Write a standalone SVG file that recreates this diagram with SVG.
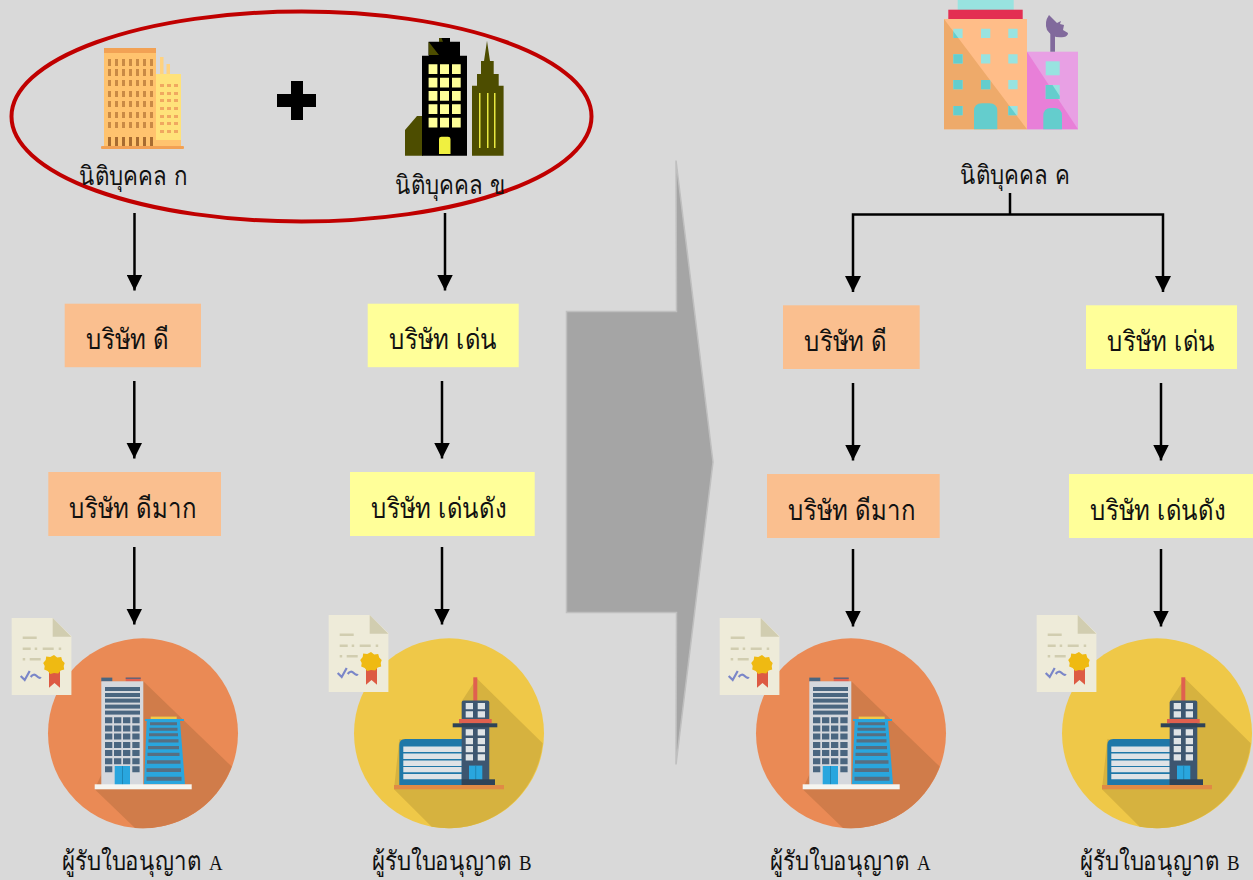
<svg xmlns="http://www.w3.org/2000/svg" xmlns:xlink="http://www.w3.org/1999/xlink" width="1253" height="880" viewBox="0 0 1253 880">
<style>
.lbl{font-family:"DejaVu Serif",serif;font-size:26px;fill:#111}
.lat{font-family:"Liberation Serif",serif;font-size:22px}
.box{font-family:"DejaVu Sans",sans-serif;font-size:28px;fill:#111}
.org{fill:#fabf8f}.yel{fill:#ffff99}
.con{fill:none;stroke:#000;stroke-width:2.5}
.w{fill:#4a6680}.wl{fill:#dfe3e6}.sb{fill:#566f82}.c1{fill:#98e3e0}.c2{fill:#64cdcd}
.o{fill:#4d4d00}.yw{fill:#ffff99}
.d1{fill:#c98a45}.d2{fill:#f0a860}
.cl{fill:#d1cdb0}
</style>
<defs>
<marker id="ah" markerUnits="userSpaceOnUse" markerWidth="16" markerHeight="16" refX="16" refY="8" orient="auto"><path d="M0 0L16 8L0 16Z" fill="#000"/></marker>
<clipPath id="clipMain"><path d="M944 19L1027 129.3H944Z"/></clipPath>
<g id="cert">
<path d="M0 0H41L59.7 18V77H0Z" fill="#eeebd9"/>
<path d="M41 0L59.7 18.7H41Z" class="cl"/>
<rect x="11" y="18.5" width="14" height="2.5" class="cl"/>
<rect x="11" y="29.5" width="8" height="2.5" class="cl"/><rect x="23" y="29.5" width="2.5" height="2.5" class="cl"/><rect x="31" y="29.5" width="11" height="2.5" class="cl"/><rect x="47" y="29.5" width="2.5" height="2.5" class="cl"/>
<rect x="11" y="40" width="2.5" height="2.5" class="cl"/><rect x="18" y="40" width="11" height="2.5" class="cl"/>
<path d="M9 58L13 62L18 53M19 59Q22 55 25 58T29 59" fill="none" stroke="#7a86c8" stroke-width="2.2"/>
<path d="M37.3 50H48.3V69.7L42.8 65L37.3 69.7Z" fill="#dd5a43"/>
<path d="M42.3 37L45.5 39.5L49.5 39L50.5 42.5L53 45L52 48L52.5 51.5L49 52.5L46.5 55.5L42.3 55L38.5 56L36 53L32.5 51.5L33 48L31.5 45L34 42L34.5 38.5L38.5 39Z" fill="#efba12"/>
</g>
<g id="bldA">
<rect x="-41.7" y="-55.7" width="11" height="4" class="w"/>
<rect x="-17.3" y="-55.7" width="15" height="4" fill="#e0604f"/><rect x="-17.3" y="-55.7" width="15" height="1.2" class="w"/>
<rect x="-41.7" y="-52" width="42" height="104" fill="#d5d8dd"/>
<rect x="-38" y="-46.3" width="35" height="4" class="w"/><rect x="-38" y="-40.3" width="35" height="4" class="w"/><rect x="-38" y="-34.7" width="35" height="4" class="w"/><rect x="-38" y="-28.7" width="35" height="4" class="w"/><rect x="-38" y="-22.7" width="35" height="4" class="w"/>
<path class="w" d="M-38-16h7.3v6h-7.3zM-29-16h7.3v6h-7.3zM-20-16h7.3v6h-7.3zM-10.7-16h7.3v6h-7.3zM-38-7.7h7.3v6h-7.3zM-29-7.7h7.3v6h-7.3zM-20-7.7h7.3v6h-7.3zM-10.7-7.7h7.3v6h-7.3zM-38 .3h7.3v6h-7.3zM-29 .3h7.3v6h-7.3zM-20 .3h7.3v6h-7.3zM-10.7 .3h7.3v6h-7.3zM-38 8.7h7.3v6h-7.3zM-29 8.7h7.3v6h-7.3zM-20 8.7h7.3v6h-7.3zM-10.7 8.7h7.3v6h-7.3zM-38 16.7h7.3v6h-7.3zM-29 16.7h7.3v6h-7.3zM-20 16.7h7.3v6h-7.3zM-10.7 16.7h7.3v6h-7.3zM-38 25h7.3v6h-7.3zM-29 25h7.3v6h-7.3zM-20 25h7.3v6h-7.3zM-10.7 25h7.3v6h-7.3zM-38 33h7.3v6h-7.3zM-10.7 33h7.3v6h-7.3z"/>
<rect x="-28.3" y="32.7" width="15.3" height="19" fill="#29a6de"/><rect x="-21" y="32.7" width="1" height="19" fill="#1e86b5"/>
<path d="M3.7-12.3H37L42 51H1Z" fill="#29a6de"/>
<rect x="2" y="-14.3" width="39" height="2" fill="#29a6de"/>
<rect x="7.7" y="-16.7" width="26" height="2.4" fill="#f0c94a"/>
<path class="sb" d="M7-11h27v3h-27zM6.5-5.5h28v3h-28zM6 0h29v3H6zM5.5 6h30v3.2h-30zM5 12.7h31v3.2H5zM4.5 19.5h32v3.3h-32zM4 27h33.5v3.5H4zM3.5 35h34.5v3.7H3.500zM3.500 43.500h35v4h-35z"/>
<rect x="-48.300" y="51" width="97" height="5" fill="#f5f5f0"/>
</g>
<g id="bldB">
<rect x="24.300" y="-56" width="4" height="24" fill="#e0604f"/>
<path d="M-49.700 51.700V11.700Q-49.700 5.700-43.700 5.700H14.300V51.700Z" fill="#1f78a8"/>
<path class="wl" d="M-45.700 13.300h58.400v5.300h-58.400zM-45.700 20.300h58.400v5.300h-58.400zM-45.700 27.300h58.400v5.300h-58.400zM-45.700 33.700h58.400v5.300h-58.400zM-45.700 40.700h58.400v5.300h-58.400z"/>
<path d="M12.700 51.700V-30.700Q12.700-32.700 14.700-32.700H38.300Q40.300-32.700 40.300-30.700V51.700Z" fill="#3d5670"/>
<rect x="10" y="-14.300" width="32.700" height="4.300" fill="#e0604f"/>
<rect x="3.700" y="-10" width="44.600" height="4" fill="#2e4358"/>
<path class="wl" d="M16.700-30.300h7.300v6.300h-7.300zM28.700-30.300h7.300v6.300h-7.300zM16.700-22h7.300v6.300h-7.300zM28.700-22h7.300v6.300h-7.300zM16.700-4h7.300v6.300h-7.300zM28.700-4h7.300v6.300h-7.300zM16.700 4.700h7.300v6.300h-7.300zM28.700 4.700h7.300v6.300h-7.300zM16.700 12.700h7.300v6.300h-7.300zM28.700 12.700h7.300v6.300h-7.300zM16.700 21h7.300v6.300h-7.300zM28.700 21h7.300v6.300h-7.300z"/>
<rect x="20" y="32.300" width="13.300" height="14.400" fill="#29a6de"/><rect x="26.200" y="32.300" width="1" height="14.400" fill="#1e86b5"/>
<rect x="12.700" y="46" width="33.300" height="5.700" fill="#2e4358"/>
<rect x="-55" y="51.700" width="110" height="4.300" fill="#e08a45"/>
</g>
</defs>
<rect width="1253" height="880" fill="#d9d9d9"/>

<g id="group-ellipse"><ellipse cx="301.500" cy="116.500" rx="290" ry="105" fill="none" stroke="#c00000" stroke-width="4"/></g>

<g id="node-legal-a">
<rect x="104" y="48" width="52" height="101" fill="#ffc36e"/>
<rect x="104" y="48" width="52" height="5" fill="#f2a154"/>
<path class="d1" d="M108 59h3v7h-3zM115 59h3v7h-3zM122 59h3v7h-3zM129 59h3v7h-3zM136 59h3v7h-3zM143 59h3v7h-3zM150 59h3v7h-3zM108 69h3v7h-3zM115 69h3v7h-3zM122 69h3v7h-3zM129 69h3v7h-3zM136 69h3v7h-3zM143 69h3v7h-3zM150 69h3v7h-3zM108 80h3v6h-3zM115 80h3v6h-3zM122 80h3v6h-3zM129 80h3v6h-3zM136 80h3v6h-3zM143 80h3v6h-3zM150 80h3v6h-3zM108 91h3v6h-3zM115 91h3v6h-3zM122 91h3v6h-3zM129 91h3v6h-3zM136 91h3v6h-3zM143 91h3v6h-3zM150 91h3v6h-3zM108 101h3v6h-3zM115 101h3v6h-3zM122 101h3v6h-3zM129 101h3v6h-3zM136 101h3v6h-3zM143 101h3v6h-3zM150 101h3v6h-3zM108 112h3v6h-3zM115 112h3v6h-3zM122 112h3v6h-3zM129 112h3v6h-3zM136 112h3v6h-3zM143 112h3v6h-3zM150 112h3v6h-3zM108 122h3v6h-3zM115 122h3v6h-3zM122 122h3v6h-3zM129 122h3v6h-3zM136 122h3v6h-3zM143 122h3v6h-3zM150 122h3v6h-3z"/>
<path fill="#a86c30" d="M108 137h3v9h-3zM115 137h3v9h-3zM122 137h3v9h-3zM129 137h3v9h-3zM136 137h3v9h-3zM143 137h3v9h-3zM150 137h3v9h-3z"/>
<rect x="160" y="57" width="3.500" height="17" fill="#ffd27f"/><rect x="166.500" y="64" width="3.500" height="10" fill="#ffd27f"/>
<rect x="156" y="74" width="25" height="72" fill="#ffe27a"/>
<path class="d2" d="M160 84h4v3h-4zM167 84h4v3h-4zM174 84h4v3h-4zM160 92h4v3h-4zM167 92h4v3h-4zM174 92h4v3h-4zM160 99h4v3h-4zM167 99h4v3h-4zM174 99h4v3h-4zM160 107h4v3h-4zM167 107h4v3h-4zM174 107h4v3h-4zM160 115h4v3h-4zM167 115h4v3h-4zM174 115h4v3h-4zM160 122h4v3h-4zM167 122h4v3h-4zM174 122h4v3h-4zM160 130h4v3h-4zM167 130h4v3h-4zM174 130h4v3h-4z"/>
<rect x="156" y="140" width="25" height="6" fill="#ffc36e"/>
<rect x="101" y="146" width="83" height="3" rx="1" fill="#f2a154"/>
<text class="lbl" transform="translate(79 185) scale(.857 1)">นิติบุคคล ก</text>
</g>

<g id="plus"><path d="M291 81H303V94H316V107H303V120H291V107H277V94H291Z" fill="#000"/></g>

<g id="node-legal-b">
<path class="o" d="M405 155.700V130L417 116H423V155.700Z"/>
<path class="o" d="M487 40.700L490 61H493.700V74H498.700V85.700H503.600V155.700H472V85.700H477V74H481V61H484Z"/>
<rect x="479" y="93" width="1.500" height="55" fill="#e8e840"/><rect x="487" y="93" width="1.500" height="55" fill="#e8e840"/><rect x="494" y="93" width="1.500" height="55" fill="#e8e840"/>
<path d="M439 41.700V38H450V41.700H460V55.700H467V155.700H422V55.700H428.600V41.700Z" fill="#000"/>
<path class="o" d="M428.600 41.700L439 55H428.600ZM439 38H441.500L443 41.700H439Z"/>
<path class="yw" d="M428.600 64.300h8.800v9.700h-8.800zM440 64.300h9v9.700h-9zM452 64.300h8.700v9.700h-8.700zM428.600 77.700h8.800v9.700h-8.800zM440 77.700h9v9.700h-9zM452 77.700h8.700v9.700h-8.700zM428.600 91h8.800v9.700h-8.800zM440 91h9v9.700h-9zM452 91h8.700v9.700h-8.700zM428.600 104.300h8.800v9.700h-8.800zM440 104.300h9v9.700h-9zM452 104.300h8.700v9.700h-8.700zM428.600 117.700h8.800v9.700h-8.800zM440 117.700h9v9.700h-9zM452 117.700h8.700v9.700h-8.700z"/>
<path d="M439 154V139Q439 136.700 441.500 136.700H448Q450.500 136.700 450.500 139V154Z" fill="#f0f040"/>
<text class="lbl" transform="translate(395 194) scale(.857 1)">นิติบุคคล ข</text>
</g>

<g id="node-legal-c">
<rect x="957.700" y="0" width="56" height="10" class="c1"/>
<rect x="948.300" y="9.700" width="74.400" height="9.300" fill="#e32e52"/>
<rect x="944" y="19" width="83" height="110.300" fill="#ffbd88"/>
<path d="M944 19L1027 129.300H944Z" fill="#eeaa6a"/>
<path class="c1" d="M953.300 28.700h9.300v9.300h-9.300zM981 28.700h9.300v9.300h-9.300zM1008.300 28.700h9.300v9.300h-9.300zM953.300 54.300h9.300v9.300h-9.300zM981 54.300h9.300v9.300h-9.300zM1008.300 54.300h9.300v9.300h-9.300zM953.300 80h9.300v9.300h-9.300zM981 80h9.300v9.300h-9.300zM1008.300 80h9.300v9.300h-9.300zM953.300 106h9.300v9.300h-9.300zM981 106h9.300v9.300h-9.300zM1008.300 106h9.300v9.300h-9.300z"/>
<g clip-path="url(#clipMain)"><path class="c2" d="M953.300 28.700h9.300v9.300h-9.300zM953.300 54.300h9.300v9.300h-9.300zM981 80h9.300v9.300h-9.300zM953.300 80h9.300v9.300h-9.300zM953.300 106h9.300v9.300h-9.300zM1008.300 106h9.300v9.300h-9.300z"/></g>
<path class="c2" d="M974 129.300V111Q974 103.300 982 103.300H989.300Q997.300 103.300 997.300 111V129.300Z"/>
<rect x="1027" y="51.700" width="51" height="77.600" fill="#e8a0e4"/>
<path d="M1027 51.700L1078 129.300H1027Z" fill="#e87fd8"/>
<rect x="1045.700" y="61.300" width="14" height="14" class="c1"/>
<rect x="1045.700" y="85" width="14" height="14" class="c1"/>
<path class="c2" d="M1045.700 85H1052.500L1059.700 96V99H1045.700Z"/>
<path class="c2" d="M1043.300 129.300V116Q1043.300 108 1051 108H1054.300Q1062 108 1062 116V129.300Z"/>
<rect x="1050.300" y="33" width="4.700" height="18.700" fill="#816a9c"/>
<path d="M1049 15Q1044 22 1047 30Q1053 39 1064 37Q1068 36 1068 33L1063 30L1064 25L1060 24L1061 21L1057 23Z" fill="#816a9c"/>
<text class="lbl" transform="translate(960 184) scale(.857 1)">นิติบุคคล ค</text>
</g>

<g id="block-arrow"><path d="M566.500 311.500H676.500L676 160.500L713 462L676 764.500L676.500 612.500H566.500Z" fill="#a5a5a5" stroke="#bfbfbf" stroke-width="1.500"/></g>

<g id="node-l1"><rect class="org" x="64.700" y="303.700" width="136.300" height="63.500"/><text class="box" transform="translate(86 349) scale(.857 1)">บริษัท ดี</text></g>
<g id="node-l2"><rect class="org" x="48.300" y="472" width="172.700" height="64"/><text class="box" transform="translate(69 518) scale(.857 1)">บริษัท ดีมาก</text></g>
<g id="node-m1"><rect class="yel" x="367.700" y="303.700" width="151" height="63.500"/><text class="box" transform="translate(389 349) scale(.857 1)">บริษัท เด่น</text></g>
<g id="node-m2"><rect class="yel" x="350" y="472" width="184.700" height="64"/><text class="box" transform="translate(371 518) scale(.857 1)">บริษัท เด่นดัง</text></g>
<g id="node-r1"><rect class="org" x="783" y="305.300" width="136.700" height="63.700"/><text class="box" transform="translate(804 351) scale(.857 1)">บริษัท ดี</text></g>
<g id="node-r2"><rect class="org" x="767" y="474" width="172.700" height="64"/><text class="box" transform="translate(788 520) scale(.857 1)">บริษัท ดีมาก</text></g>
<g id="node-s1"><rect class="yel" x="1086" y="305.300" width="151" height="63.700"/><text class="box" transform="translate(1107 351) scale(.857 1)">บริษัท เด่น</text></g>
<g id="node-s2"><rect class="yel" x="1069" y="474" width="184" height="64"/><text class="box" transform="translate(1090 520) scale(.857 1)">บริษัท เด่นดัง</text></g>

<g id="connectors">
<path class="con" marker-end="url(#ah)" d="M134.500 213V290.500"/>
<path class="con" marker-end="url(#ah)" d="M445 213V290.500"/>
<path class="con" marker-end="url(#ah)" d="M134.300 381V458.500"/>
<path class="con" marker-end="url(#ah)" d="M134.300 547V624.500"/>
<path class="con" marker-end="url(#ah)" d="M442 381V458.500"/>
<path class="con" marker-end="url(#ah)" d="M442 547V624.500"/>
<path class="con" d="M1010 193V214.500"/>
<path class="con" marker-end="url(#ah)" d="M1010 214.500H853V292"/>
<path class="con" marker-end="url(#ah)" d="M1010 214.500H1163V292"/>
<path class="con" marker-end="url(#ah)" d="M853 383V460.500"/>
<path class="con" marker-end="url(#ah)" d="M853 549V626.500"/>
<path class="con" marker-end="url(#ah)" d="M1161 383V460.500"/>
<path class="con" marker-end="url(#ah)" d="M1161 549V626.500"/>
</g>

<g id="licensee-a">
<circle cx="143" cy="733.300" r="95" fill="#ea8a55"/>
<path transform="translate(143 733.300)" d="M.3-52L88.700 33.300A95 95 0 0 1-8 94.700L-48.300 56Z" fill="#d07c4a"/>
<use href="#bldA" xlink:href="#bldA" transform="translate(143 733.300)"/>
<use href="#cert" xlink:href="#cert" transform="translate(11.700 618)"/>
<text class="lbl" transform="translate(62 870) scale(.857 1)">ผู้รับใบอนุญาต <tspan class="lat">A</tspan></text>
</g>
<g id="licensee-b">
<circle cx="449" cy="733.300" r="95" fill="#efc848"/>
<path transform="translate(449 733.300)" d="M27.700-55L93.700 10A95 95 0 0 1-17.300 93.500L-55 56L-49.700 6H12.700V-32Z" fill="#d6b23f"/>
<use href="#bldB" xlink:href="#bldB" transform="translate(449 733.300)"/>
<use href="#cert" xlink:href="#cert" transform="translate(328.700 615)"/>
<text class="lbl" transform="translate(372 870) scale(.857 1)">ผู้รับใบอนุญาต <tspan class="lat">B</tspan></text>
</g>
<g id="licensee-a2">
<circle cx="851" cy="733.300" r="95" fill="#ea8a55"/>
<path transform="translate(851 733.300)" d="M.3-52L88.700 33.300A95 95 0 0 1-8 94.700L-48.300 56Z" fill="#d07c4a"/>
<use href="#bldA" xlink:href="#bldA" transform="translate(851 733.300)"/>
<use href="#cert" xlink:href="#cert" transform="translate(719.700 618)"/>
<text class="lbl" transform="translate(770 870) scale(.857 1)">ผู้รับใบอนุญาต <tspan class="lat">A</tspan></text>
</g>
<g id="licensee-b2">
<circle cx="1157" cy="733.300" r="95" fill="#efc848"/>
<path transform="translate(1157 733.300)" d="M27.700-55L93.700 10A95 95 0 0 1-17.300 93.500L-55 56L-49.700 6H12.700V-32Z" fill="#d6b23f"/>
<use href="#bldB" xlink:href="#bldB" transform="translate(1157 733.300)"/>
<use href="#cert" xlink:href="#cert" transform="translate(1036.700 615)"/>
<text class="lbl" transform="translate(1080 870) scale(.857 1)">ผู้รับใบอนุญาต <tspan class="lat">B</tspan></text>
</g>
</svg>
